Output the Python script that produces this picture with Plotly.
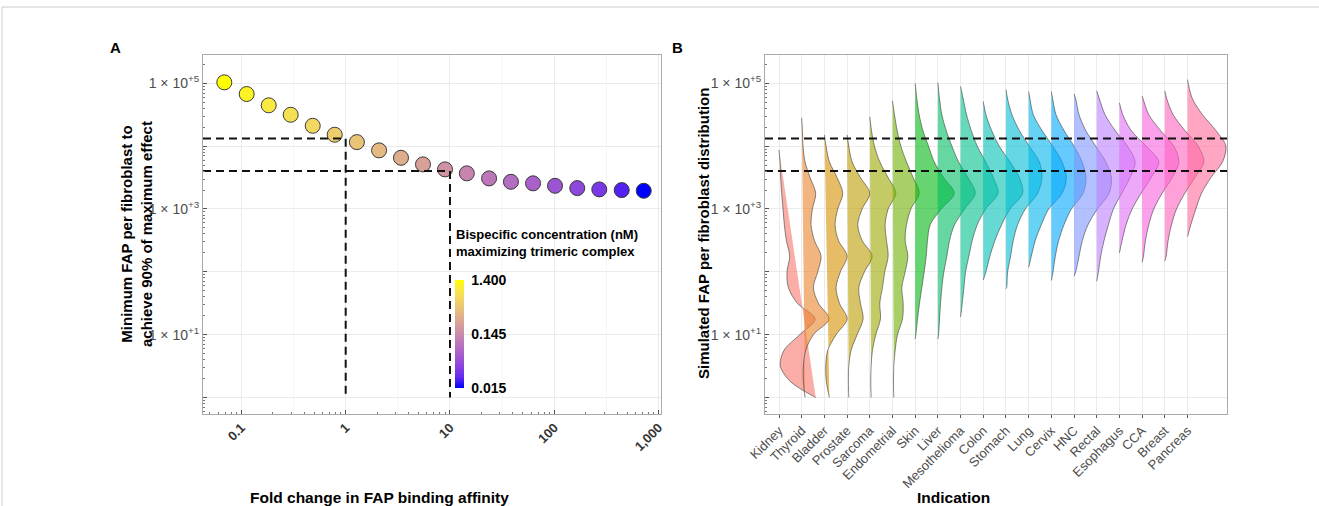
import numpy as np
import plotly.graph_objects as go

W, H = 1319, 506

# ---------------- Panel A data ----------------
fold_change = [0.0686, 0.1124, 0.1828, 0.297, 0.483, 0.785, 1.28, 2.09, 3.39, 5.51,
               8.96, 14.5, 23.7, 38.4, 62.5, 101.6, 166, 270, 443, 720]
min_fap = [103700, 67600, 44700, 31600, 21100, 15200, 11600, 8570, 6530, 5130,
           4270, 3690, 3070, 2710, 2560, 2340, 2150, 2050, 2000, 1950]
bispecific_nM = [1.40, 1.12, 0.93, 0.78, 0.65, 0.54, 0.45, 0.36, 0.29, 0.23,
                 0.17, 0.13, 0.10, 0.081, 0.064, 0.051, 0.039, 0.030, 0.022, 0.015]
threshold_fold = [1, 10]
threshold_fap = [13300, 4010]
cbar_ticks = [0.015, 0.145, 1.400]
cbar_text = ["0.015", "0.145", "1.400"]
fold_ticks = [0.1, 1, 10, 100, 1000]
fold_tick_text = ["0.1", "1", "10", "100", "1,000"]
fap_ticks = [1, 10, 100, 1000, 10000, 100000]
fap_tick_text = [" ", "1 × 10<sup>+1</sup>", " ", "1 × 10<sup>+3</sup>", " ", "1 × 10<sup>+5</sup>"]

# ---------------- Panel B data ----------------
indications = ["Kidney", "Thyroid", "Bladder", "Prostate", "Sarcoma", "Endometrial", "Skin",
               "Liver", "Mesothelioma", "Colon", "Stomach", "Lung", "Cervix", "HNC", "Rectal",
               "Esophagus", "CCA", "Breast", "Pancreas"]
# log10(FAP per fibroblast) grid on which the density widths were read
log_levels = [0.0, 0.25, 0.5, 0.75, 1.0, 1.25, 1.5, 1.75, 2.0, 2.25, 2.5,
              2.75, 3.0, 3.25, 3.5, 3.75, 4.0, 4.25, 4.5, 4.75, 5.0]
log_min = [0.0, 0.0, 0.0, 0.0, 0.0, 0.0, 0.93, 0.93, 1.28, 1.87, 1.73, 2.07, 1.86, 1.93,
           1.85, 2.30, 2.15, 2.17, 2.56]
log_max = [3.94, 4.45, 4.18, 4.18, 4.47, 4.72, 5.00, 5.01, 4.95, 4.71, 4.90, 4.87, 4.87, 4.83,
           4.88, 4.69, 4.80, 4.88, 5.06]
N = None
# density widths (68 = one category spacing)
kidney_w = [110, 35, 4, 15, 62, 108, 55, 28, 24, 32, 22, 16, 12, 8, 5, 3, N, N, N, N, N]
thyroid_w = [10, 5, 5, 12, 35, 82, 50, 35, 48, 58, 38, 28, 32, 42, 25, 10, 4, 2, N, N, N]
bladder_w = [15, 6, 4, 10, 35, 68, 45, 35, 48, 68, 42, 32, 40, 55, 38, 15, 5, N, N, N, N]
prostate_w = [5, 4, 5, 12, 30, 48, 40, 35, 52, 75, 45, 32, 45, 68, 40, 15, 5, N, N, N, N]
sarcoma_w = [4, 3, 4, 8, 18, 32, 30, 38, 45, 55, 50, 46, 55, 78, 55, 30, 14, 5, N, N, N]
endometrial_w = [4, 3, 4, 8, 15, 30, 32, 28, 38, 46, 38, 42, 55, 80, 62, 42, 25, 14, 6, N, N]
skin_w = [N, N, N, N, 2, 7, 13, 20, 27, 33, 37, 45, 78, 117, 85, 57, 40, 23, 12, 5, N]
liver_w = [N, N, N, N, 2, 5, 8, 12, 18, 27, 35, 50, 80, 112, 90, 62, 42, 25, 12, 5, N]
meso_w = [N, N, N, N, N, N, 5, 10, 15, 25, 35, 50, 75, 112, 98, 75, 50, 32, 18, 8, N]
colon_w = [N, N, N, N, N, N, N, N, 8, 20, 35, 55, 80, 118, 108, 80, 48, 25, 8, N, N]
stomach_w = [N, N, N, N, N, N, N, 2, 5, 14, 22, 35, 58, 95, 108, 100, 70, 40, 18, 5, N]
lung_w = [N, N, N, N, N, N, N, N, N, 8, 20, 38, 60, 100, 113, 100, 72, 40, 14, 4, N]
cervix_w = [N, N, N, N, N, N, N, N, 5, 12, 22, 38, 60, 95, 104, 92, 68, 38, 14, 4, N]
hnc_w = [N, N, N, N, N, N, N, N, 5, 15, 25, 42, 70, 105, 112, 95, 65, 35, 15, 5, N]
rectal_w = [N, N, N, N, N, N, N, N, 5, 12, 22, 35, 50, 75, 100, 115, 92, 55, 25, 8, N]
esophagus_w = [N, N, N, N, N, N, N, N, N, N, 8, 20, 38, 65, 95, 118, 80, 35, 10, N, N]
cca_w = [N, N, N, N, N, N, N, N, N, 4, 10, 20, 35, 60, 90, 110, 95, 55, 20, 3, N]
breast_w = [N, N, N, N, N, N, N, N, N, 4, 10, 20, 35, 60, 90, 117, 100, 60, 25, 6, N]
pancreas_w = [N, N, N, N, N, N, N, N, N, N, N, 10, 25, 42, 70, 105, 115, 85, 45, 15, 2]
density_widths = [kidney_w, thyroid_w, bladder_w, prostate_w, sarcoma_w, endometrial_w, skin_w,
                  liver_w, meso_w, colon_w, stomach_w, lung_w, cervix_w, hnc_w, rectal_w,
                  esophagus_w, cca_w, breast_w, pancreas_w]

# ---------------- style helpers ----------------
FONT = "Liberation Sans, Arial, sans-serif"
WIDTH_UNIT = 68.0


def _lin2srgb(c):
    c = np.clip(c, 0, 1)
    return np.where(c <= 0.0031308, 12.92 * c, 1.055 * np.power(c, 1 / 2.4) - 0.055)


def _srgb2lin(c):
    c = np.asarray(c, float)
    return np.where(c <= 0.04045, c / 12.92, ((c + 0.055) / 1.055) ** 2.4)


M = np.array([[3.2404542, -1.5371385, -0.4985314],
              [-0.9692660, 1.8760108, 0.0415560],
              [0.0556434, -0.2040259, 1.0572252]])
Minv = np.linalg.inv(M)
WHITE = np.array([0.95047, 1.0, 1.08883])


def xyz_to_hex(xyz):
    rgb = _lin2srgb(M @ xyz)
    r, g, b = [int(round(v * 255)) for v in rgb]
    return "#%02X%02X%02X" % (r, g, b)


def hue_pal(n, l=65, c=100):
    cols = []
    un = 4 * WHITE[0] / (WHITE[0] + 15 * WHITE[1] + 3 * WHITE[2])
    vn = 9 * WHITE[1] / (WHITE[0] + 15 * WHITE[1] + 3 * WHITE[2])
    for i in range(n):
        h = np.deg2rad(15 + 360.0 * i / n)
        u, v = c * np.cos(h), c * np.sin(h)
        Y = ((l + 16) / 116) ** 3
        up, vp = u / (13 * l) + un, v / (13 * l) + vn
        X = Y * 9 * up / (4 * vp)
        Z = Y * (12 - 3 * up - 20 * vp) / (4 * vp)
        cols.append(xyz_to_hex(np.array([X, Y, Z])))
    return cols


def hex_to_lab(hx):
    rgb = np.array([int(hx[i:i + 2], 16) / 255 for i in (1, 3, 5)])
    xyz = Minv @ _srgb2lin(rgb) / WHITE
    f = np.where(xyz > 0.008856, np.cbrt(xyz), 7.787 * xyz + 16 / 116)
    return np.array([116 * f[1] - 16, 500 * (f[0] - f[1]), 200 * (f[1] - f[2])])


def lab_to_hex(lab):
    fy = (lab[0] + 16) / 116
    fx, fz = fy + lab[1] / 500, fy - lab[2] / 200
    f = np.array([fx, fy, fz])
    xyz = np.where(f ** 3 > 0.008856, f ** 3, (f - 16 / 116) / 7.787) * WHITE
    return xyz_to_hex(xyz)


lab_lo, lab_hi = hex_to_lab("#0000FF"), hex_to_lab("#FFFF00")
colorscale = [[t, lab_to_hex(lab_lo + (lab_hi - lab_lo) * t)] for t in np.linspace(0, 1, 11)]


def rgba(hx, a):
    return "rgba(%d,%d,%d,%.2f)" % (int(hx[1:3], 16), int(hx[3:5], 16), int(hx[5:7], 16), a)


fig = go.Figure()

# ---- Panel A ----
xA = [np.log10(fold_ticks[0]) - 0.368, np.log10(fold_ticks[-1]) + 0.023]
yR = [-0.263, 5.451]
for k in range(len(fold_ticks) - 1):
    xm = 10 ** (np.log10(fold_ticks[k]) + 0.5)
    fig.add_trace(go.Scatter(x=[xm, xm], y=[10 ** yR[0], 10 ** yR[1]], mode="lines",
                             line=dict(color="#F3F3F3", width=0.8), hoverinfo="skip",
                             xaxis="x", yaxis="y"))

clog = np.log10(bispecific_nM)
fig.add_trace(go.Scatter(
    x=fold_change, y=min_fap, mode="markers", xaxis="x", yaxis="y",
    marker=dict(size=15, color=clog, colorscale=colorscale,
                cmin=np.log10(cbar_ticks[0]), cmax=np.log10(cbar_ticks[-1]),
                line=dict(color="#3a3a3a", width=1),
                colorbar=dict(x=455 / W, xanchor="left", y=1 - 334 / H, yanchor="middle",
                              len=108, lenmode="pixels", thickness=9, xpad=0, ypad=0,
                              outlinewidth=0, ticks="outside", ticklen=5,
                              tickcolor="rgba(0,0,0,0)",
                              tickvals=np.log10(cbar_ticks), ticktext=cbar_text,
                              tickfont=dict(family=FONT, size=14, color="black", weight="bold"))),
))

for fc, fp in zip(threshold_fold, threshold_fap):
    fig.add_trace(go.Scatter(x=[10 ** xA[0], fc, fc], y=[fp, fp, 1], mode="lines",
                             line=dict(color="#111111", width=2, dash="8px,5px"),
                             hoverinfo="skip", xaxis="x", yaxis="y"))

# ---- Panel B ----
colors = hue_pal(len(indications))
for i, (name, w, lo, hi) in enumerate(zip(indications, density_widths, log_min, log_max)):
    xs, ys = [], []
    w0 = w[0] if lo <= log_levels[0] and w[0] is not None else 0
    xs.append(i + w0 / WIDTH_UNIT)
    ys.append(10 ** lo)
    for lv, wv in zip(log_levels, w):
        if wv is None or lv <= lo or lv >= hi:
            continue
        xs.append(i + wv / WIDTH_UNIT)
        ys.append(10 ** lv)
    xs.append(i)
    ys.append(10 ** hi)
    fig.add_trace(go.Scatter(x=[i, i], y=[10 ** lo, 10 ** hi], mode="lines",
                             line=dict(width=0, color="rgba(0,0,0,0)"), hoverinfo="skip",
                             xaxis="x2", yaxis="y2"))
    fig.add_trace(go.Scatter(x=xs, y=ys, mode="lines", fill="tonext",
                             fillcolor=rgba(colors[i], 0.6),
                             line=dict(color="#3c3c3c", width=0.6, shape="spline", smoothing=0.9),
                             name=name, xaxis="x2", yaxis="y2"))

xB = [-0.617, len(indications) + 0.74]
for fp in threshold_fap:
    fig.add_trace(go.Scatter(x=xB, y=[fp, fp], mode="lines",
                             line=dict(color="#111111", width=2, dash="8px,5px"),
                             hoverinfo="skip", xaxis="x2", yaxis="y2"))

domA = [203 / W, 661 / W]
domB = [765 / W, 1227 / W]
domY = [1 - 414 / H, 1 - 55 / H]
common_y = dict(type="log", range=yR, domain=domY, tickvals=fap_ticks, ticktext=fap_tick_text,
                ticks="inside", ticklen=4, tickcolor="#555555",
                minor=dict(dtick="D1", ticks="inside", ticklen=2, tickcolor="#777777", showgrid=False),
                tickfont=dict(family=FONT, size=14, color="#4D4D4D"),
                showgrid=True, gridcolor="#EBEBEB", gridwidth=1, zeroline=False,
                showline=True, mirror=True, linecolor="#AAAAAA", linewidth=1)

fig.update_layout(
    width=W, height=H, margin=dict(l=0, r=0, t=0, b=0, autoexpand=False),
    paper_bgcolor="white", plot_bgcolor="white", showlegend=False,
    font=dict(family=FONT),
    xaxis=dict(type="log", range=xA, domain=domA, anchor="y",
               tickvals=fold_ticks, ticktext=fold_tick_text, tickangle=-45,
               ticks="inside", ticklen=4, tickcolor="#555555",
               minor=dict(dtick="D1", ticks="inside", ticklen=2, tickcolor="#777777", showgrid=False),
               tickfont=dict(family=FONT, size=13, color="#333333", weight="bold"),
               showgrid=True, gridcolor="#EBEBEB", zeroline=False,
               showline=True, mirror=True, linecolor="#AAAAAA", linewidth=1),
    yaxis=dict(anchor="x", **common_y),
    xaxis2=dict(range=xB, domain=domB, anchor="y2",
                tickvals=list(range(len(indications))), ticktext=indications, tickangle=-45,
                ticks="outside", ticklen=3, tickcolor="#555555",
                tickfont=dict(family=FONT, size=13, color="#4D4D4D"),
                showgrid=True, gridcolor="#EBEBEB", zeroline=False,
                showline=True, mirror=True, linecolor="#AAAAAA", linewidth=1),
    yaxis2=dict(anchor="x2", **common_y),
)

ann = [
    dict(text="<b>A</b>", x=115 / W, y=1 - 47 / H, size=15),
    dict(text="<b>B</b>", x=677 / W, y=1 - 47 / H, size=15),
    dict(text="<b>Fold change in FAP binding affinity</b>", x=379 / W, y=1 - 497 / H, size=15.5),
    dict(text="<b>Indication</b>", x=953 / W, y=1 - 497 / H, size=15.5),
]
for a in ann:
    fig.add_annotation(text=a["text"], x=a["x"], y=a["y"], xref="paper", yref="paper",
                       showarrow=False, xanchor="center", yanchor="middle",
                       font=dict(family=FONT, size=a["size"], color="black"))
fig.add_annotation(text="<b>Minimum FAP per fibroblast to<br>achieve 90% of maximum effect</b>",
                   x=136 / W, y=1 - 234 / H, xref="paper", yref="paper", showarrow=False,
                   textangle=-90, xanchor="center", yanchor="middle",
                   font=dict(family=FONT, size=15, color="black"))
fig.add_annotation(text="<b>Simulated FAP per fibroblast distribution</b>",
                   x=703 / W, y=1 - 234 / H, xref="paper", yref="paper", showarrow=False,
                   textangle=-90, xanchor="center", yanchor="middle",
                   font=dict(family=FONT, size=15, color="black"))
fig.add_annotation(text="<b>Bispecific concentration (nM)<br>maximizing trimeric complex</b>",
                   x=454 / W, y=1 - 243 / H, xref="paper", yref="paper", showarrow=False,
                   align="left", xanchor="left", yanchor="middle",
                   font=dict(family=FONT, size=13, color="black"))

# page frame lines
fig.add_shape(type="line", xref="paper", yref="paper", x0=2 / W, x1=1, y0=1 - 7 / H, y1=1 - 7 / H,
              line=dict(color="#CCCCCC", width=1))
fig.add_shape(type="line", xref="paper", yref="paper", x0=2 / W, x1=2 / W, y0=0, y1=1 - 7 / H,
              line=dict(color="#CCCCCC", width=1))

fig.write_html("out.html", config={"displayModeBar": False},
               post_script="document.body.style.margin='0';document.body.style.overflow='hidden';")
